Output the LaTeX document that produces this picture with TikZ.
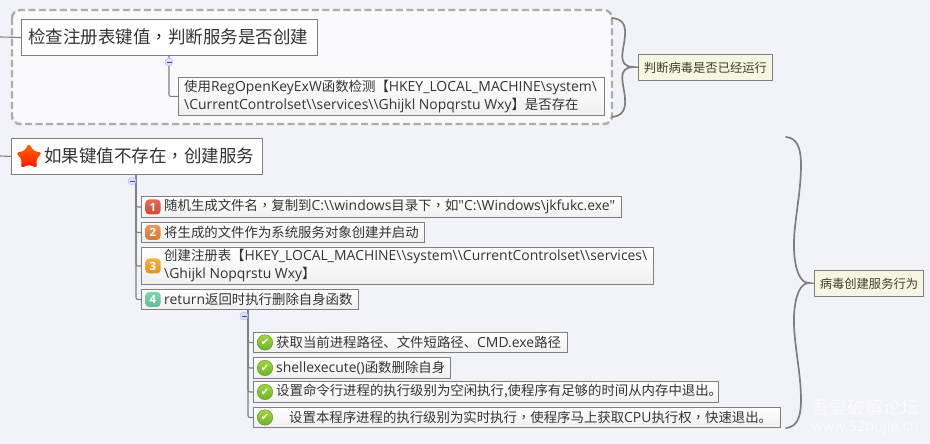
\documentclass[tikz,border=0pt]{standalone}
\usepackage{fontspec}
\usetikzlibrary{shapes.geometric}
\newfontfamily\cnfont{Noto Sans CJK SC}
\newfontfamily\tcfont{Noto Sans CJK TC}
\newfontfamily\latfont[Scale=1.04]{Open Sans}
\newfontfamily\symfont{DejaVu Sans}
\AtBeginDocument{\cnfont}
\newcommand{\bs}{\textbackslash}
\newcommand{\lat}[1]{{\latfont #1}}
\newcommand{\cm}{{\tcfont\symbol{"FF0C}}}
\definecolor{pagebg}{HTML}{F2F3F9}
\definecolor{inkdark}{HTML}{333333}
\definecolor{linegray}{HTML}{7F7F7F}
\definecolor{notefill}{HTML}{F6F6E2}
\definecolor{ticktop}{HTML}{A4D23C}
\definecolor{tickbot}{HTML}{6DB52B}
\tikzset{
  topicbox/.style={draw=linegray, line width=0.9pt, fill=white, anchor=north west, inner sep=0pt},
  itembox/.style={draw=linegray, line width=0.9pt, top color=white, bottom color=white!94!black, anchor=north west, inner sep=0pt},
  notebox/.style={draw=linegray, line width=0.9pt, fill=notefill, anchor=north west, inner sep=0pt, text=inkdark!85!olive, font=\fontsize{12.3pt}{15pt}\selectfont},
  bigtext/.style={anchor=west, inner sep=0pt, text=inkdark, font=\fontsize{17.5pt}{20pt}\selectfont},
  itemtext/.style={anchor=west, inner sep=0pt, align=left, text=inkdark, font=\fontsize{13.4pt}{18pt}\selectfont},
  link/.style={draw=linegray, line width=1.1pt, rounded corners=2pt},
  brace/.style={draw=linegray, line width=1.7pt, line cap=round},
  collapse/.style={circle, draw=blue!30!white, fill=blue!12!white, minimum size=8pt, inner sep=0pt, path picture={\draw[blue!50!gray, line width=0.7pt] (path picture bounding box.west) ++(2pt,0) -- ++(4.5pt,0);}},
  badge/.style={rounded corners=3.5pt, minimum size=15pt, inner sep=0pt, text=white, font=\latfont\bfseries\fontsize{11pt}{11pt}\selectfont},
  tick/.style={circle, draw=tickbot!80!black, line width=0.4pt, top color=ticktop, bottom color=tickbot, minimum size=15.5pt, inner sep=0pt},
}
\begin{document}
\begin{tikzpicture}[x=1pt, y=-1pt]
\useasboundingbox[fill=pagebg] (0,0) rectangle (930,444);
% boundary
\draw[rounded corners=8pt, fill=white!60!pagebg, draw=black!32, line width=2.4pt, dash pattern=on 7pt off 3.5pt] (12,10) rectangle (612,124);
% first group
\node[topicbox, minimum width=296pt, minimum height=36pt] (check) at (21,19) {};
\node[bigtext] (checkt) at (28,37) {检查注册表键值\cm 判断服务是否创建};
\coordinate (checkin) at (0,37);
\draw[link] (checkin) -- (check.west);
\node[itembox, minimum width=426pt, minimum height=38pt] (usereg) at (178,77) {};
\node[itemtext] (useregt) at (184,96) {使用\lat{RegOpenKeyExW}函数检测【\lat{HKEY\_LOCAL\_MACHINE\bs system\bs}\\\lat{\bs CurrentControlset\bs\bs services\bs\bs Ghijkl Nopqrstu Wxy}】是否存在};
\coordinate (checkstem) at (169,55);
\draw[link] (checkstem) |- (usereg.west);
\node[collapse] (checkmin) at (169,62) {};
% second group
\node[topicbox, minimum width=251pt, minimum height=36pt] (create) at (11,138) {};
\node[star, star points=5, star point ratio=1.75, top color=orange!85!red, bottom color=red!85!orange, rounded corners=2.5pt, minimum size=27pt, inner sep=0pt] (createstar) at (29,157) {};
\node[bigtext] (createt) at (44,156) {如果键值不存在\cm 创建服务};
\coordinate (createin) at (0,156);
\draw[link] (createin) -- (create.west);
\node[itembox, minimum width=480pt, minimum height=21pt] (item1) at (141,196) {};
\node[itembox, minimum width=283pt, minimum height=20pt] (item2) at (141,222) {};
\node[itembox, minimum width=512pt, minimum height=37pt] (item3) at (141,247) {};
\node[itembox, minimum width=217pt, minimum height=20pt] (item4) at (141,289) {};
\coordinate (createstem) at (136,174);
\foreach \n in {1,...,4}
  \draw[link] (createstem) |- (item\n.west);
\node[collapse] (createmin) at (132,181) {};
\foreach \n/\c in {1/E0503A, 2/E8853F, 3/EFA321, 4/6ACDA2}{
  \definecolor{badgecol}{HTML}{\c}
  \node[badge, top color=badgecol!85!white, bottom color=badgecol!92!black] (badge\n) at ([xshift=12pt]item\n.west) {\n};
}
\node[itemtext] (item1t) at (164,206.5) {随机生成文件名\cm 复制到\lat{C:\bs\bs windows}目录下\cm 如\lat{"C:\bs Windows\bs jkfukc.exe"}};
\node[itemtext] (item2t) at (164,232) {将生成的文件作为系统服务对象创建并启动};
\node[itemtext] (item3t) at (164,265.5) {创建注册表【\lat{HKEY\_LOCAL\_MACHINE\bs\bs system\bs\bs CurrentControlset\bs\bs services\bs}\\\lat{\bs Ghijkl Nopqrstu Wxy}】};
\node[itemtext] (item4t) at (164,299) {\lat{return}返回时执行删除自身函数};
% sub items
\node[itembox, minimum width=314pt, minimum height=20pt] (sub1) at (253,332) {};
\node[itembox, minimum width=197pt, minimum height=21pt] (sub2) at (253,357) {};
\node[itembox, minimum width=465pt, minimum height=21pt] (sub3) at (253,381) {};
\node[itembox, minimum width=527pt, minimum height=20pt] (sub4) at (253,407) {};
\coordinate (substem) at (248,309);
\foreach \n in {1,...,4}
  \draw[link] (substem) |- (sub\n.west);
\node[collapse] (submin) at (244,316) {};
\foreach \n in {1,...,4}
  \node[tick] (tick\n) at ([xshift=12pt]sub\n.west) {\textcolor{white}{\symfont\fontsize{10pt}{10pt}\selectfont ✔}};
\node[itemtext] (sub1t) at (276,342) {获取当前进程路径、文件短路径、\lat{CMD.exe}路径};
\node[itemtext] (sub2t) at (276,367.5) {\lat{shellexecute()}函数删除自身};
\node[itemtext] (sub3t) at (276,391.5) {设置命令行进程的执行级别为空闲执行,使程序有足够的时间从内存中退出。};
\node[itemtext] (sub4t) at (289,417) {设置本程序进程的执行级别为实时执行\cm 使程序马上获取\lat{CPU}执行权\cm 快速退出。};
% notes
\node[notebox, minimum width=134pt, minimum height=26pt] (runnote) at (638,54) {判断病毒是否已经运行};
\node[notebox, minimum width=109pt, minimum height=26pt] (svcnote) at (814,270) {病毒创建服务行为};
\coordinate (runbrace) at (633,67);
\coordinate (svcbrace) at (809,283);
\draw[brace] (612,18) .. controls (622,19) and (626,24) .. (625,36) .. controls (624,50) and (616,66) .. (runbrace) .. controls (616,68) and (624,84) .. (625,98) .. controls (626,110) and (622,116) .. (612,117);
\draw[brace] (786,137) .. controls (796,138) and (801,146) .. (801,165) .. controls (801,195) and (793,225) .. (794,250) .. controls (795,270) and (800,283) .. (svcbrace) .. controls (800,283) and (795,296) .. (794,316) .. controls (793,341) and (801,371) .. (801,400) .. controls (801,419) and (796,427) .. (786,428);
\draw[link] (runbrace) -- (runnote.west);
\draw[link] (svcbrace) -- (svcnote.west);
% watermark
\node[inner sep=0pt, text=white, opacity=0.7, font=\fontsize{18pt}{20pt}\selectfont] (wmark) at (865,408) {吾爱破解论坛};
\node[inner sep=0pt, text=white, opacity=0.7, font=\latfont\fontsize{14pt}{16pt}\selectfont] (wmurl) at (865,428) {www.52pojie.cn};
\end{tikzpicture}
\end{document}
